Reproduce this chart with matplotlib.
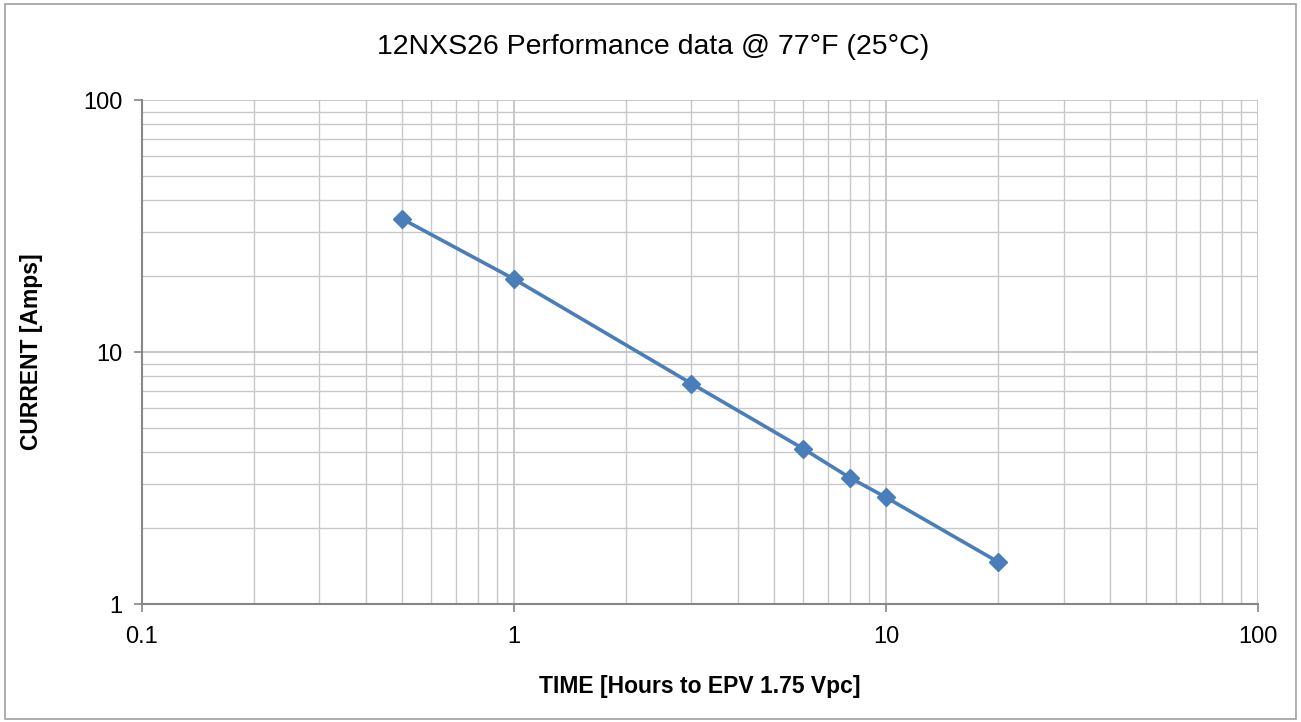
import matplotlib.pyplot as plt
from matplotlib.ticker import LogLocator, NullFormatter, FixedLocator, FixedFormatter
from matplotlib.patches import Rectangle

plt.rcParams['font.family'] = ['Liberation Sans', 'DejaVu Sans']

# discharge time (h) and current (A)
hours = [0.5, 1, 3, 6, 8, 10, 20]
amps = [33.8, 19.5, 7.5, 4.13, 3.17, 2.65, 1.47]

x_ticks = [0.1, 1, 10, 100]
x_tick_labels = ["0.1", "1", "10", "100"]
y_ticks = [1, 10, 100]
y_tick_labels = ["1", "10", "100"]

fig = plt.figure(figsize=(13.01, 7.22), dpi=100)
ax = fig.add_axes([0.109, 0.1634, 0.858, 0.698])

# outer chart border
fig.patches.append(Rectangle((0.004, 0.004), 0.992, 0.99, transform=fig.transFigure,
                             fill=False, edgecolor='#a0a0a0', linewidth=1.2))

ax.plot(hours, amps, color='#4a7ebb', linewidth=2.6, marker='D', markersize=9,
        markerfacecolor='#4a7ebb', markeredgecolor='#4a7ebb', zorder=3)

ax.set_xscale('log')
ax.set_yscale('log')
ax.set_xlim(0.1, 100)
ax.set_ylim(1, 100)

ax.xaxis.set_major_locator(FixedLocator(x_ticks))
ax.xaxis.set_major_formatter(FixedFormatter(x_tick_labels))
ax.yaxis.set_major_locator(FixedLocator(y_ticks))
ax.yaxis.set_major_formatter(FixedFormatter(y_tick_labels))
ax.xaxis.set_minor_locator(LogLocator(base=10, subs=range(2, 10)))
ax.yaxis.set_minor_locator(LogLocator(base=10, subs=range(2, 10)))
ax.xaxis.set_minor_formatter(NullFormatter())
ax.yaxis.set_minor_formatter(NullFormatter())

ax.grid(which='major', color='#bfbfbf', linewidth=1.2)
ax.grid(which='minor', color='#c8c8c8', linewidth=1.0)
ax.set_axisbelow(True)

for side in ['top', 'right']:
    ax.spines[side].set_visible(False)
for side in ['left', 'bottom']:
    ax.spines[side].set_color('#868686')
    ax.spines[side].set_linewidth(1.5)

ax.tick_params(which='major', length=6, width=1.2, color='#868686',
               labelsize=17, pad=10)
ax.tick_params(axis='y', which='major', pad=8)
ax.tick_params(which='minor', length=0)

fig.text(0.502, 0.935, "12NXS26 Performance data @ 77°F (25°C)", fontsize=20.5,
         ha='center', va='center')
ax.set_xlabel("TIME [Hours to EPV 1.75 Vpc]", fontsize=16.5, fontweight='bold',
              labelpad=19)
ax.set_ylabel("CURRENT [Amps]", fontsize=16.5, fontweight='bold', labelpad=29)

fig.savefig("out.png", dpi=100)
